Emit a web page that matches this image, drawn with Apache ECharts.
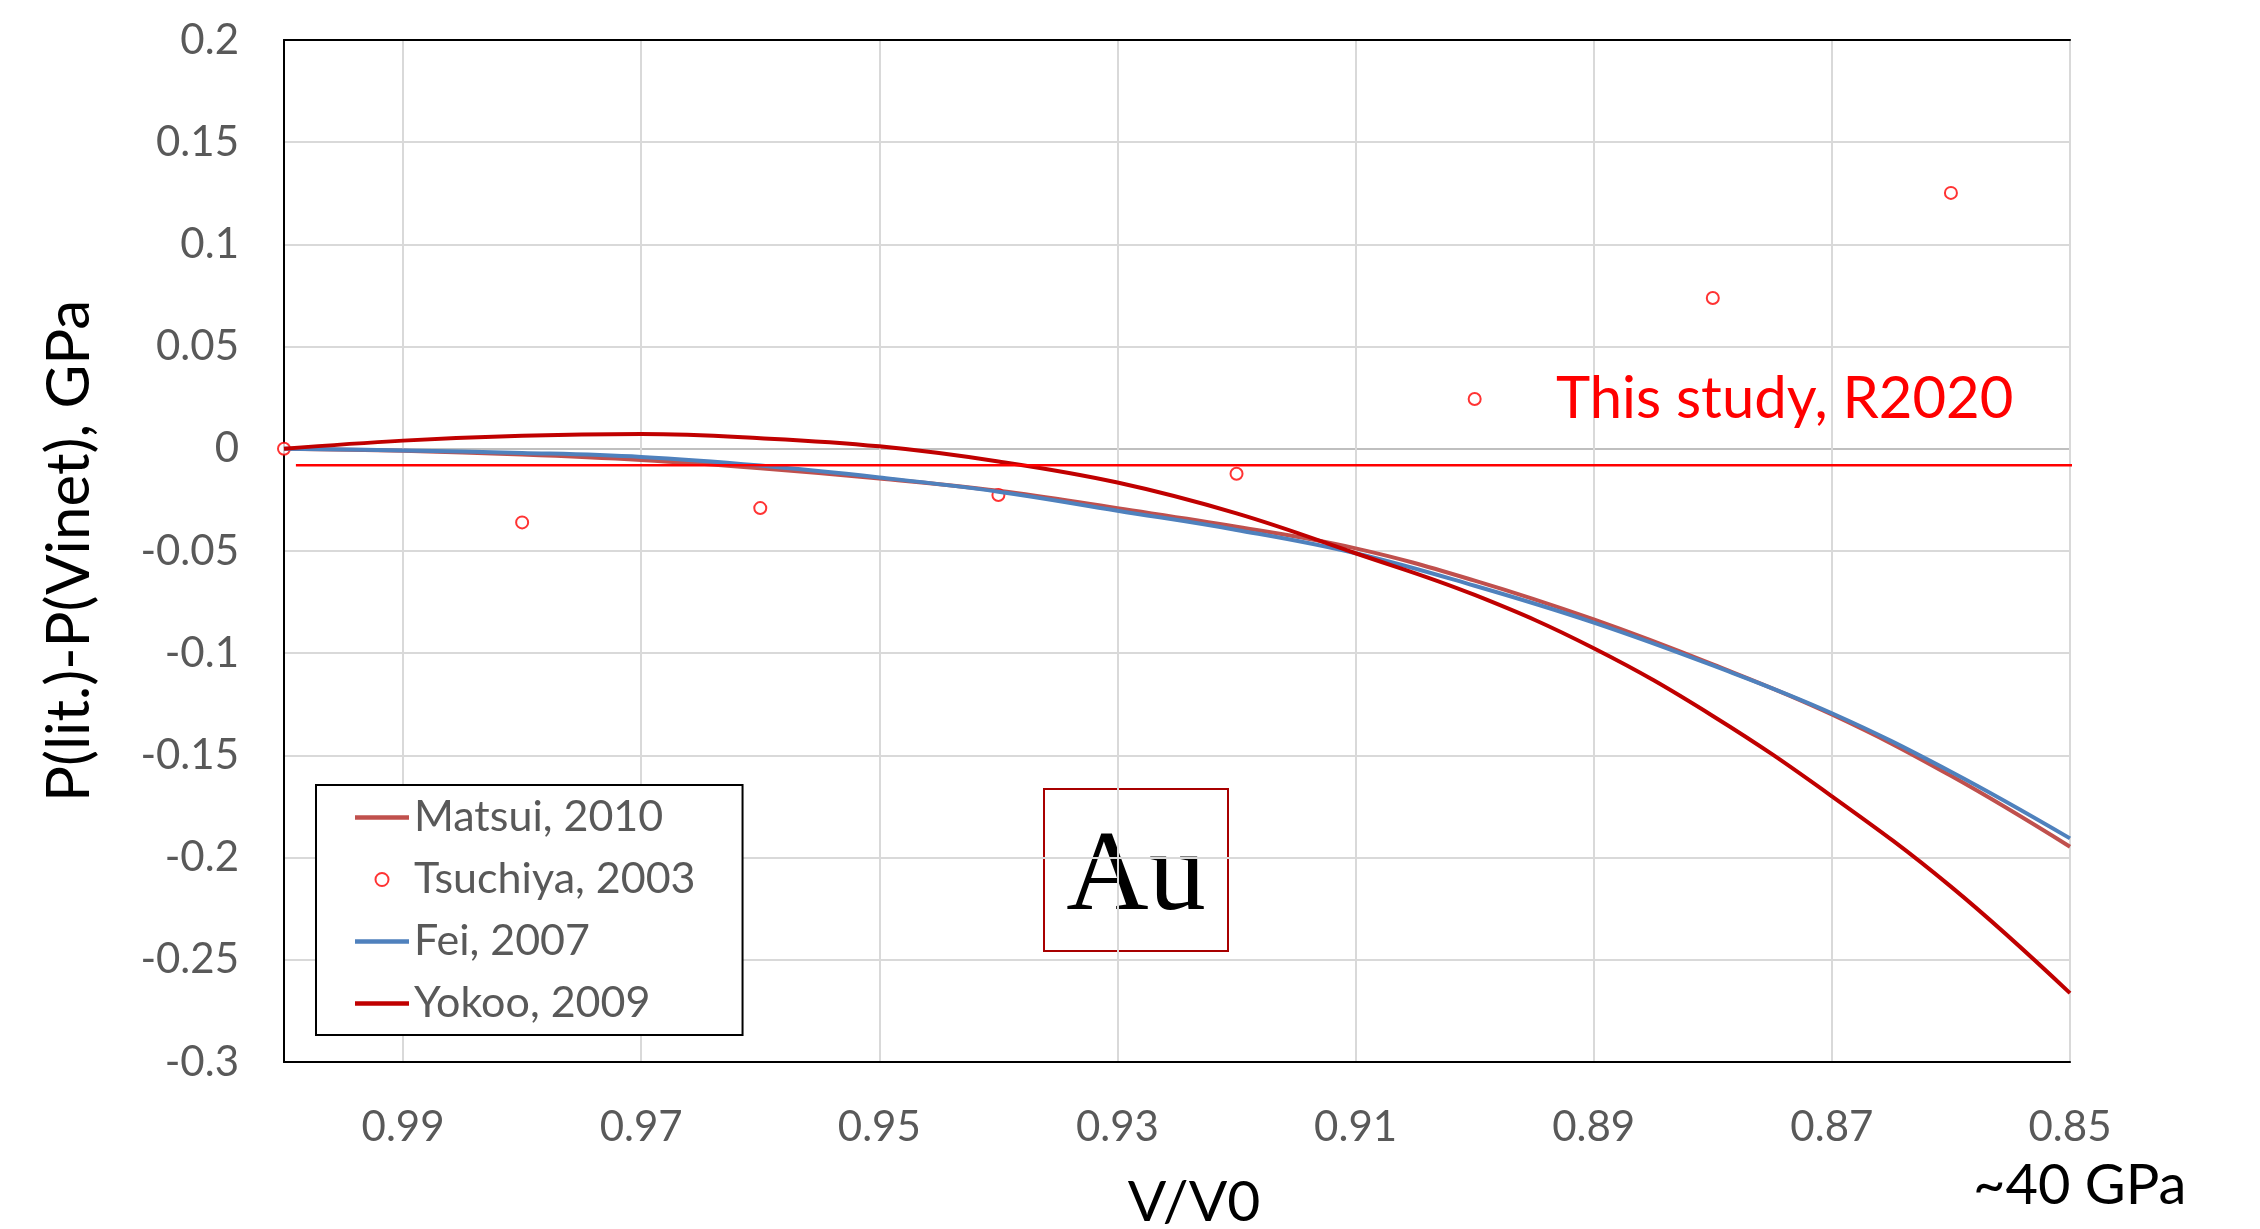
<!DOCTYPE html>
<html>
<head>
<meta charset="utf-8">
<title>Au: P(lit.) - P(Vinet)</title>
<script src="https://cdn.jsdelivr.net/npm/echarts@6/dist/echarts.min.js"></script>
<style>
  html, body { margin: 0; padding: 0; background: #fff; }
  #chart { width: 2260px; height: 1229px; }
</style>
</head>
<body>
<div id="chart"></div>
<script>
// Compression V/V0 (x) and pressure difference P(lit.) - P(Vinet), GPa (y)
const vv0 = [1.00, 0.99, 0.98, 0.97, 0.96, 0.95, 0.94, 0.93, 0.92, 0.91, 0.90, 0.89, 0.88, 0.87, 0.86, 0.85];

const matsui2010 = [0, -0.0010, -0.0028, -0.0055, -0.0095, -0.0145, -0.0205, -0.0291, -0.0381, -0.0487, -0.0645, -0.0835, -0.1055, -0.1300, -0.1600, -0.1947];
const fei2007    = [0, -0.0008, -0.0020, -0.0040, -0.0082, -0.0140, -0.0210, -0.0303, -0.0397, -0.0511, -0.0670, -0.0850, -0.1060, -0.1294, -0.1580, -0.1906];
const yokoo2009  = [0, 0.0040, 0.0064, 0.0072, 0.0052, 0.0012, -0.0062, -0.0165, -0.0316, -0.0511, -0.0715, -0.0976, -0.1307, -0.1700, -0.2142, -0.2663];

// Tsuchiya (2003) tabulated points
const tsuchiyaX = [1.00, 0.98, 0.96, 0.94, 0.92, 0.90, 0.88, 0.86];
const tsuchiyaY = [0, -0.036, -0.029, -0.0226, -0.0122, 0.0244, 0.0738, 0.1252];

// This study (R2020): constant offset line
const thisStudyX = [0.999, 0.8489];
const thisStudyY = [-0.008, -0.008];

// Axis ticks
const xTicks = [0.99, 0.97, 0.95, 0.93, 0.91, 0.89, 0.87, 0.85];
const yTicks = [0.2, 0.15, 0.1, 0.05, 0, -0.05, -0.1, -0.15, -0.2, -0.25, -0.3];

const pairs = (xs, ys) => xs.map((x, i) => [x, ys[i]]);

const FONT = 'Lato';
const GREY = '#595959';

const chart = echarts.init(document.getElementById('chart'), null, { renderer: 'canvas' });

const yGridColors = yTicks.slice().reverse().map(v => (Math.abs(v) < 1e-9 ? '#BFBFBF' : '#D9D9D9'));
const LINE_ICON = 'path://M0,0H120V10H0Z';

const option = {
  backgroundColor: '#ffffff',
  animation: false,
  textStyle: { fontFamily: FONT },
  grid: {
    left: 284, right: 190, top: 40, bottom: 167,
    containLabel: false, outerBoundsMode: 'none',
    show: true, borderColor: '#A6A6A6', borderWidth: 2, backgroundColor: 'transparent'
  },
  xAxis: [{
    type: 'value',
    min: Math.min(...xTicks),
    max: 1.0,
    interval: 0.02,
    inverse: true,
    name: 'V/V0',
    nameLocation: 'middle',
    nameGap: 112,
    nameTextStyle: { color: '#000', fontSize: 57, fontFamily: FONT, padding: [0, 0, 0, 34] },
    axisLine: { show: true, onZero: false, lineStyle: { color: '#000', width: 2 } },
    axisTick: { show: false },
    axisLabel: {
      color: GREY, fontSize: 42, fontFamily: FONT, margin: 44,
      formatter: v => (xTicks.some(t => Math.abs(t - v) < 1e-6) ? v.toFixed(2) : '')
    },
    splitLine: { show: true, lineStyle: { color: '#D9D9D9', width: 2 } }
  }, {
    type: 'value',
    position: 'top',
    min: Math.min(...xTicks), max: 1.0, inverse: true,
    axisLine: { show: true, onZero: false, lineStyle: { color: '#000', width: 2 } },
    axisTick: { show: false }, axisLabel: { show: false }, splitLine: { show: false }
  }],
  yAxis: {
    type: 'value',
    min: Math.min(...yTicks),
    max: Math.max(...yTicks),
    interval: 0.05,
    name: 'P(lit.)-P(Vinet), GPa',
    nameLocation: 'middle',
    nameGap: 184,
    nameTextStyle: { color: '#000', fontSize: 60, fontFamily: FONT },
    axisLine: { show: true, onZero: false, lineStyle: { color: '#000', width: 2 } },
    axisTick: { show: false },
    axisLabel: {
      color: GREY, fontSize: 42, fontFamily: FONT, margin: 45,
      formatter: v => String(parseFloat(v.toFixed(2)))
    },
    splitLine: { show: true, lineStyle: { color: yGridColors, width: 2 } }
  },
  legend: {
    orient: 'vertical',
    left: 316, top: 785,
    padding: [11, 47, 10, 39],
    backgroundColor: '#ffffff',
    borderColor: '#000', borderWidth: 2, borderRadius: 0,
    itemWidth: 54, itemHeight: 13, itemGap: 19,
    textStyle: { color: GREY, fontSize: 43, fontFamily: FONT, lineHeight: 42 },
    data: [
      { name: 'Matsui, 2010', icon: LINE_ICON },
      { name: 'Tsuchiya, 2003', icon: 'emptyCircle' },
      { name: 'Fei, 2007', icon: LINE_ICON },
      { name: 'Yokoo, 2009', icon: LINE_ICON }
    ]
  },
  series: [
    {
      name: 'Matsui, 2010', type: 'line', smooth: 0.4, symbol: 'none',
      data: pairs(vv0, matsui2010),
      color: '#C0504D',
      lineStyle: { color: '#C0504D', width: 4 }, z: 2
    },
    {
      name: 'Tsuchiya, 2003', type: 'scatter', symbol: 'emptyCircle', symbolSize: 12,
      data: pairs(tsuchiyaX, tsuchiyaY),
      color: '#FF0000',
      itemStyle: { color: '#FF0000', borderColor: '#FF0000', borderWidth: 2 },
      clip: false, z: 3
    },
    {
      name: 'Fei, 2007', type: 'line', smooth: 0.4, symbol: 'none',
      data: pairs(vv0, fei2007),
      color: '#4F81BD',
      lineStyle: { color: '#4F81BD', width: 4 }, z: 4
    },
    {
      name: 'Yokoo, 2009', type: 'line', smooth: 0.4, symbol: 'none',
      data: pairs(vv0, yokoo2009),
      color: '#C00000',
      lineStyle: { color: '#C00000', width: 4 }, z: 5
    },
    {
      name: 'This study, R2020', type: 'line', symbol: 'none',
      data: pairs(thisStudyX, thisStudyY),
      color: '#FF0000',
      lineStyle: { color: '#FF0000', width: 2.5 },
      clip: false, z: 6, silent: true
    }
  ],
  graphic: [
    {
      type: 'text', left: 1556, top: 370, z: 10,
      style: { text: 'This study, R2020', fill: '#FF0000', font: '58px Lato' }
    },
    {
      type: 'group', left: 1043, top: 788, z: 10,
      children: [
        { type: 'rect', shape: { x: 0, y: 0, width: 184, height: 162 },
          style: { fill: 'transparent', stroke: '#A80000', lineWidth: 2 } },
        { type: 'text', x: 92, y: 90,
          style: { text: 'Au', fill: '#000', font: '114px "Liberation Serif"', align: 'center', verticalAlign: 'middle' } }
      ]
    },
    {
      type: 'text', left: 1973, top: 1158, z: 10,
      style: { text: '~40 GPa', fill: '#000', font: '56px Lato' }
    }
  ]
};

chart.setOption(option);
</script>
</body>
</html>
